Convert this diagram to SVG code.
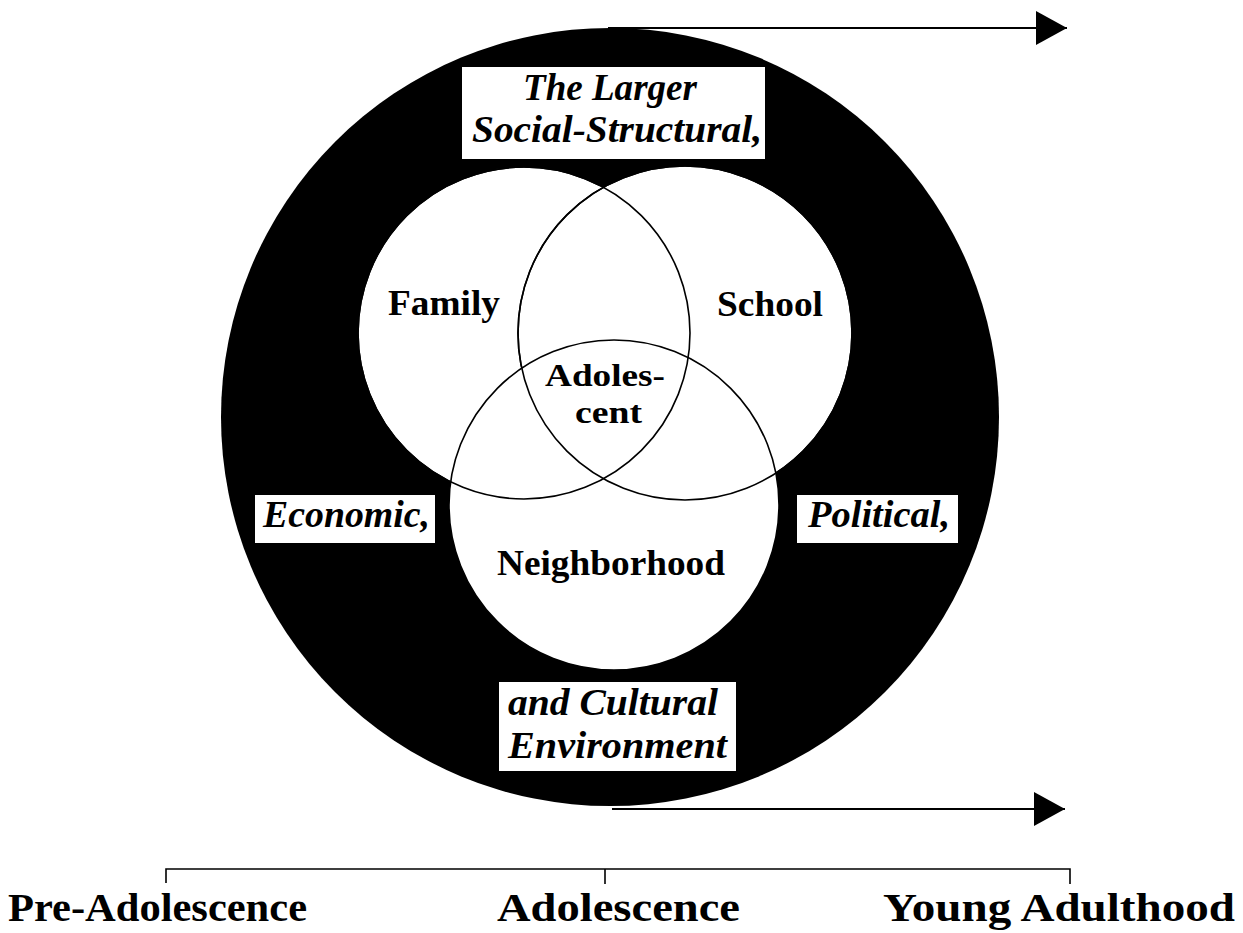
<svg xmlns="http://www.w3.org/2000/svg" width="1243" height="933" viewBox="0 0 1243 933">
<defs>
<style>
.bg{fill:#fff}
.ring{fill:#000}
.venn{fill:#fff;stroke:#000;stroke-width:1.6}
.vennline{fill:none;stroke:#000;stroke-width:1.6}
.box{fill:#fff;stroke:none}
.it{font-family:"Liberation Serif","DejaVu Serif",serif;font-style:italic;font-weight:bold;font-size:38px;fill:#000}
.lb{font-family:"Liberation Serif","DejaVu Serif",serif;font-weight:bold;font-size:35px;fill:#000}
.ad{font-family:"Liberation Serif","DejaVu Serif",serif;font-weight:bold;font-size:32px;fill:#000}
.tl{font-family:"Liberation Serif","DejaVu Serif",serif;font-weight:bold;font-size:41px;fill:#000}
.conn{fill:none;stroke:#000;stroke-width:2}
.tick{fill:none;stroke:#000;stroke-width:1.6}
</style>
<marker id="ah" markerUnits="userSpaceOnUse" markerWidth="32" markerHeight="36" refX="31" refY="17" orient="auto" viewBox="0 0 32 36">
<path d="M0,0 L31,17 L0,34 Z" fill="#000"/>
</marker>
</defs>
<rect class="bg" x="0" y="0" width="1243" height="933"/>

<g id="environment">
<circle class="ring" cx="610" cy="417" r="389"/>
</g>

<g id="family">
<circle class="venn" cx="524" cy="333" r="166"/>
<text class="lb" x="388" y="315" textLength="112" lengthAdjust="spacingAndGlyphs">Family</text>
</g>
<g id="school">
<circle class="venn" cx="685" cy="333" r="167"/>
<text class="lb" x="717" y="316" textLength="106" lengthAdjust="spacingAndGlyphs">School</text>
</g>
<g id="neighborhood">
<circle class="venn" cx="614" cy="505" r="165"/>
<text class="lb" x="497" y="575" textLength="228" lengthAdjust="spacingAndGlyphs">Neighborhood</text>
</g>
<g id="venn-outlines">
<circle class="vennline" cx="524" cy="333" r="166"/>
<circle class="vennline" cx="685" cy="333" r="167"/>
</g>
<g id="adolescent">
<text class="ad" x="545" y="386" textLength="120" lengthAdjust="spacingAndGlyphs">Adoles-</text>
<text class="ad" x="575" y="423" textLength="67" lengthAdjust="spacingAndGlyphs">cent</text>
</g>

<g id="label-top">
<rect class="box" x="462" y="67" width="303" height="92"/>
<text class="it" x="523" y="100" textLength="174" lengthAdjust="spacingAndGlyphs">The Larger</text>
<text class="it" x="472" y="142" textLength="290" lengthAdjust="spacingAndGlyphs">Social-Structural,</text>
</g>
<g id="label-economic">
<rect class="box" x="255" y="495" width="180" height="48"/>
<text class="it" x="263" y="527" textLength="167" lengthAdjust="spacingAndGlyphs">Economic,</text>
</g>
<g id="label-political">
<rect class="box" x="797" y="495" width="161" height="48"/>
<text class="it" x="808" y="527" textLength="142" lengthAdjust="spacingAndGlyphs">Political,</text>
</g>
<g id="label-bottom">
<rect class="box" x="499" y="682" width="237" height="89"/>
<text class="it" x="508" y="715" textLength="210" lengthAdjust="spacingAndGlyphs">and Cultural</text>
<text class="it" x="508" y="758" textLength="219" lengthAdjust="spacingAndGlyphs">Environment</text>
</g>

<g id="connectors">
<line class="conn" x1="608" y1="28" x2="1067" y2="28" marker-end="url(#ah)"/>
<line class="conn" x1="612" y1="809" x2="1065" y2="809" marker-end="url(#ah)"/>
</g>

<g id="timeline">
<path class="tick" d="M166,883 L166,869 L1070,869 L1070,884 M605,869 L605,884"/>
<text class="tl" x="8" y="921" textLength="299" lengthAdjust="spacingAndGlyphs">Pre-Adolescence</text>
<text class="tl" x="497" y="921" textLength="243" lengthAdjust="spacingAndGlyphs">Adolescence</text>
<text class="tl" x="883" y="921" textLength="352" lengthAdjust="spacingAndGlyphs">Young Adulthood</text>
</g>
</svg>
